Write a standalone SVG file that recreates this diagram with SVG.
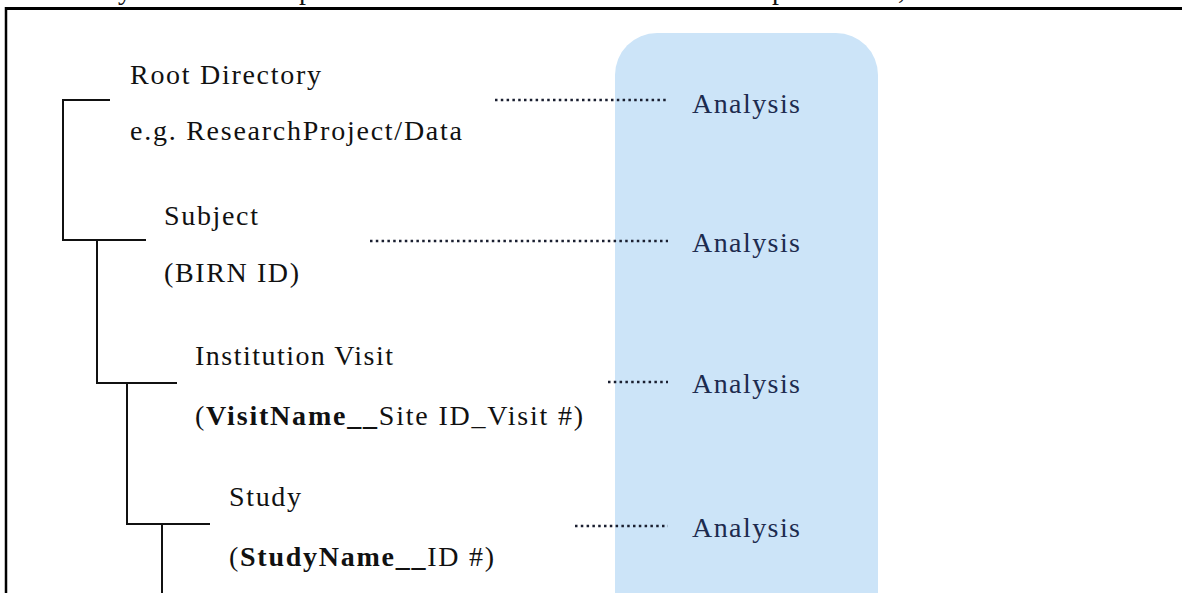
<svg xmlns="http://www.w3.org/2000/svg" width="1182" height="593" viewBox="0 0 1182 593">
<style>
.t{font-family:"Liberation Serif","Times New Roman",serif;font-size:28px;fill:#111}
.b{font-weight:bold}
.a{font-family:"Liberation Serif","Times New Roman",serif;font-size:28px;fill:#1d2b4f}
.tree{stroke:#111;stroke-width:2;fill:none}
.dot{stroke:#1a1f30;stroke-width:2.5;stroke-dasharray:2.5 3.3;fill:none}
.frame{stroke:#000;fill:none}
</style>
<rect x="0" y="0" width="1182" height="593" fill="#ffffff"/>
<g id="cropped-text">
<text class="t" x="118" y="-1">y</text>
<text class="t" x="299" y="-1">p</text>
<text class="t" x="772" y="-1">p</text>
<text class="t" x="898" y="-1">,</text>
</g>
<g id="frame">
<line class="frame" x1="6" y1="8.5" x2="1182" y2="8.5" stroke-width="3"/>
<line class="frame" x1="6" y1="7" x2="6" y2="593" stroke-width="2.5"/>
</g>
<g id="analysis-panel">
<rect x="615" y="33" width="263" height="620" rx="42" ry="42" fill="#cce4f8"/>
</g>
<g id="connectors">
<path class="tree" d="M110,100 H63 V240 H146"/>
<path class="tree" d="M97,240 V383 H177"/>
<path class="tree" d="M127,383 V524 H210"/>
<path class="tree" d="M162,524 V593"/>
<line class="dot" x1="495" y1="100" x2="668" y2="100"/>
<line class="dot" x1="370" y1="241" x2="668" y2="241"/>
<line class="dot" x1="608" y1="382" x2="668" y2="382"/>
<line class="dot" x1="575" y1="526" x2="668" y2="526"/>
</g>
<g id="root-directory">
<text class="t" x="130" y="84" textLength="191" lengthAdjust="spacing">Root Directory</text>
<text class="t" x="130" y="140" textLength="332" lengthAdjust="spacing">e.g. ResearchProject/Data</text>
</g>
<g id="subject">
<text class="t" x="164" y="225" textLength="94" lengthAdjust="spacing">Subject</text>
<text class="t" x="164" y="282" textLength="135" lengthAdjust="spacing">(BIRN ID)</text>
</g>
<g id="institution-visit">
<text class="t" x="195" y="365" textLength="198" lengthAdjust="spacing">Institution Visit</text>
<text class="t" x="195" y="425" textLength="388" lengthAdjust="spacing">(<tspan class="b">VisitName__</tspan>Site ID_Visit #)</text>
</g>
<g id="study">
<text class="t" x="229" y="506" textLength="72" lengthAdjust="spacing">Study</text>
<text class="t" x="229" y="566" textLength="265" lengthAdjust="spacing">(<tspan class="b">StudyName__</tspan>ID #)</text>
</g>
<g id="analysis-1"><text class="a" x="692" y="113" textLength="108" lengthAdjust="spacing">Analysis</text></g>
<g id="analysis-2"><text class="a" x="692" y="252" textLength="108" lengthAdjust="spacing">Analysis</text></g>
<g id="analysis-3"><text class="a" x="692" y="393" textLength="108" lengthAdjust="spacing">Analysis</text></g>
<g id="analysis-4"><text class="a" x="692" y="537" textLength="108" lengthAdjust="spacing">Analysis</text></g>
</svg>
